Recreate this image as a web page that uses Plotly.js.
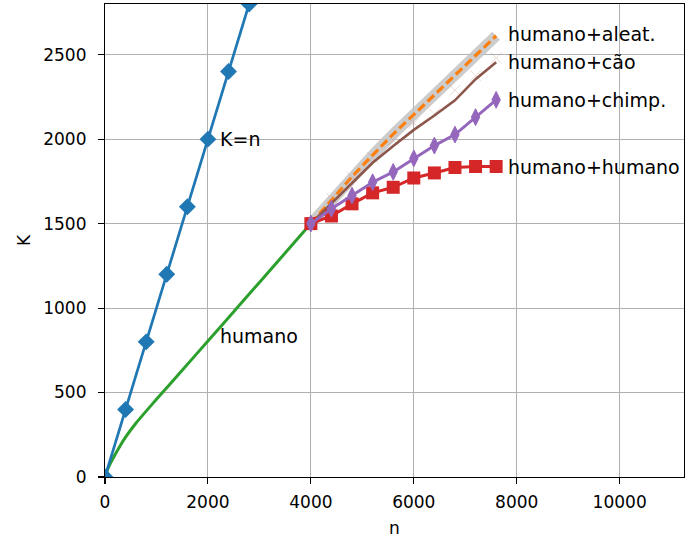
<!DOCTYPE html>
<html>
<head>
<meta charset="utf-8">
<script src="https://cdn.plot.ly/plotly-3.0.1.min.js"></script>
<style>html,body{margin:0;padding:0;background:#fff}#chart{width:698px;height:538px}</style>
</head>
<body>
<div id="chart"></div>
<script>
// K = n reference
const nDiag = [0, 400, 800, 1200, 1600, 2000, 2400, 2800];
const kDiag = [0, 400, 800, 1200, 1600, 2000, 2400, 2800];

// humano
const nHum = [0, 50, 100, 200, 300, 400, 600, 800, 1000, 1500, 2000, 2500, 3000, 3500, 4000];
const kHum = [0, 45, 78, 135, 188, 236, 318, 390, 460, 632, 805, 978, 1152, 1326, 1500];

// continuation from n = 4000
const nExt = [4000, 4400, 4800, 5200, 5600, 6000, 6400, 6800, 7200, 7600];
const kHumHum = [1500, 1545, 1617, 1682, 1715, 1770, 1800, 1832, 1838, 1838];
const kHumChimp = [1500, 1588, 1666, 1745, 1806, 1886, 1962, 2027, 2130, 2233];
const kHumCao = [1500, 1620, 1740, 1860, 1960, 2055, 2140, 2230, 2355, 2455];
const kHumAleat = [1500, 1640, 1778, 1905, 2030, 2145, 2260, 2378, 2495, 2612];
const nCaoX = [4400, 4800, 5200, 5600, 6000, 6400, 6800, 7200, 7600];
const kCaoX = [1650, 1775, 1890, 1995, 2095, 2150, 2290, 2375, 2480];

const xTicks = [0, 2000, 4000, 6000, 8000, 10000];
const xTickText = ['0', '2000', '4000', '6000', '8000', '10000'];
const yTicks = [0, 500, 1000, 1500, 2000, 2500];

const labels = [
  {text: 'K=n', n: 2200, k: 2000},
  {text: 'humano', n: 2200, k: 836},
  {text: 'humano+aleat.', n: 7800, k: 2622},
  {text: 'humano+cão', n: 7800, k: 2458},
  {text: 'humano+chimp.', n: 7800, k: 2233},
  {text: 'humano+humano', n: 7800, k: 1838}
];

const FONT = 'DejaVu Sans, sans-serif';

const traces = [
  {x: nHum, y: kHum, mode: 'lines', line: {color: '#2ca02c', width: 3, shape: 'spline', smoothing: 0.4}},
  {x: nExt, y: kHumAleat, mode: 'lines', line: {color: 'rgba(195,195,195,0.85)', width: 11}},
  {x: nExt, y: kHumAleat, mode: 'lines', line: {color: '#ff7f0e', width: 3.2, dash: '9px,4px'}},
  {x: nCaoX, y: kCaoX, mode: 'markers', marker: {symbol: 'x-thin-open', size: 11, color: 'rgba(205,150,140,0.35)', line: {width: 1, color: 'rgba(205,150,140,0.35)'}}},
  {x: nExt, y: kHumCao, mode: 'lines', line: {color: '#8c564b', width: 2.6}},
  {x: nExt, y: kHumHum, mode: 'lines+markers', line: {color: '#d62728', width: 3}, marker: {symbol: 'square', size: 13, color: '#d62728'}},
  {x: nExt, y: kHumChimp, mode: 'lines+markers', line: {color: '#9467bd', width: 3}, marker: {symbol: 'diamond-tall', size: 12, color: '#9467bd', line: {width: 1, color: '#9467bd'}}},
  {x: nDiag, y: kDiag, mode: 'lines+markers', line: {color: '#1f77b4', width: 2.7}, marker: {symbol: 'diamond', size: 13, color: '#1f77b4'}}
];

const axisCommon = {
  showline: true, mirror: true, linecolor: '#000', linewidth: 1.1,
  ticks: 'outside', ticklen: 6, tickwidth: 1.1, tickcolor: '#000',
  showgrid: true, gridcolor: '#b0b0b0', gridwidth: 1, zeroline: false,
  tickfont: {family: FONT, size: 17, color: '#000'}
};

const layout = {
  width: 698, height: 538,
  margin: {l: 105, r: 14, t: 4, b: 61},
  paper_bgcolor: '#fff', plot_bgcolor: '#fff',
  showlegend: false,
  font: {family: FONT, color: '#000'},
  xaxis: Object.assign({}, axisCommon, {
    range: [0, 11250], tickmode: 'array', tickvals: xTicks, ticktext: xTickText,
    ticklabelstandoff: 3,
    title: {text: 'n', font: {family: FONT, size: 17, color: '#000'}, standoff: 12}
  }),
  yaxis: Object.assign({}, axisCommon, {
    range: [0, 2800], tickmode: 'array', tickvals: yTicks,
    ticklabelstandoff: 8,
    title: {text: 'K', font: {family: FONT, size: 17, color: '#000'}, standoff: 8}
  }),
  annotations: labels.map(l => ({
    x: l.n, y: l.k, xref: 'x', yref: 'y', text: l.text, showarrow: false,
    xanchor: 'left', yanchor: 'middle', font: {family: FONT, size: 19, color: '#000'}
  }))
};

Plotly.newPlot('chart', traces, layout, {staticPlot: true});
</script>
</body>
</html>
